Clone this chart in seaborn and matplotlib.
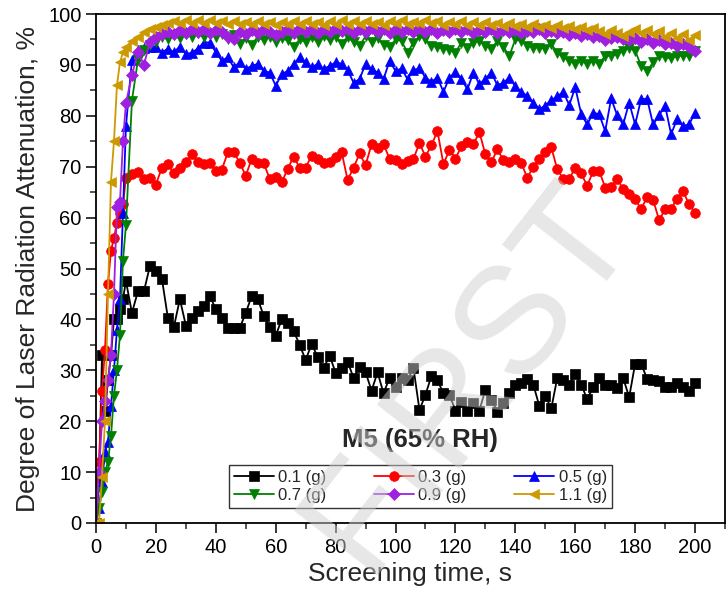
import matplotlib
matplotlib.use("Agg")
import matplotlib.pyplot as plt
from matplotlib.ticker import MultipleLocator
import pandas as pd
import seaborn as sns

# ---------------- data ----------------
time_s = [0, 1, 2, 3, 4, 5, 6, 7, 8, 9, 10,
          12, 14, 16, 18, 20, 22, 24, 26, 28, 30, 32, 34, 36, 38, 40,
          42, 44, 46, 48, 50, 52, 54, 56, 58, 60, 62, 64, 66, 68, 70,
          72, 74, 76, 78, 80, 82, 84, 86, 88, 90, 92, 94, 96, 98, 100,
          102, 104, 106, 108, 110, 112, 114, 116, 118, 120, 122, 124, 126, 128, 130,
          132, 134, 136, 138, 140, 142, 144, 146, 148, 150, 152, 154, 156, 158, 160,
          162, 164, 166, 168, 170, 172, 174, 176, 178, 180, 182, 184, 186, 188, 190,
          192, 194, 196, 198, 200]

m01 = [0, 8, 33, 22, 28, 33, 40, 40, 42, 44, 47.5,
       41.3, 45.5, 45.5, 50.5, 49.5, 48, 40.3, 38.5, 44, 38.8, 40.3, 41.6, 42.6, 44.6, 42,
       40.3, 38.3, 38.3, 38.3, 41.3, 44.6, 44, 40.7, 38.5, 36.8, 40, 39.2, 37.7, 35, 32,
       35.2, 32.6, 30.4, 32.9, 29.5, 30.4, 31.7, 28.5, 30.6, 29.6, 26, 29.6, 25.5, 28.5, 26.8,
       28.5, 28.1, 30.4, 22.2, 25.2, 28.9, 28, 25.5, 25.2, 22.1, 23.7, 22.1, 23.6, 22.1, 26.2,
       24.2, 21.9, 23.6, 25.5, 27.2, 27.5, 28.3, 27.2, 23, 25, 22.5, 28.5, 28, 27.2, 29.3,
       27.2, 24.3, 26.7, 28.5, 27.2, 27.2, 26.5, 28.5, 24.7, 31.3, 31.3, 28.3, 28.1, 27.8, 26.7,
       26.7, 27.5, 26.8, 25.9, 27.6]

m03 = [0, 12, 26, 34, 47, 53.5, 56, 59, 61, 62.6, 67.8,
       68.5, 69, 67.5, 67.8, 66.5, 69.8, 70.5, 68.7, 69.8, 70.9, 72.4, 70.9, 70.5, 70.7, 69.2,
       69.4, 72.8, 72.8, 70.8, 68.2, 71.6, 70.8, 70.7, 67.6, 68, 66.9, 69.6, 72, 69.8, 69.8,
       72.2, 71.5, 70.8, 70.9, 72, 72.9, 67.4, 69.8, 72.6, 70.3, 74.4, 73.6, 74.4, 71.6, 71.3,
       70.5, 71.1, 71.6, 74.6, 72, 74.2, 77, 70.5, 73.3, 71.6, 74, 74.9, 74.4, 76.8, 72.4,
       70.9, 73.4, 71.3, 70.9, 71.6, 70.7, 67.8, 70, 71.5, 72.8, 73.8, 69.5, 67.6, 67.6, 69.8,
       68.7, 66.2, 69.2, 69.2, 65.9, 66.1, 67.6, 65.6, 64.6, 63.7, 61.6, 64.1, 63.5, 59.5, 61.6,
       61.7, 63.7, 65.2, 62.6, 61]

m05 = [0, 3, 8, 14, 16, 23, 30, 38, 44, 61, 78,
       91, 93, 93.4, 93.5, 93.6, 92.4, 93.2, 92.5, 93.6, 92.1, 92.4, 93.2, 94.4, 94.4, 92.5,
       90.8, 91.5, 89.5, 90.5, 89.2, 89.8, 90.2, 88.8, 88.5, 85.9, 88.2, 88.8, 90.2, 91.5, 90.5,
       89.5, 90.2, 89.2, 89.8, 90.5, 90.2, 89, 86.5, 87.2, 90.2, 89.2, 88.5, 87.2, 90.8, 88.8,
       89.3, 87.2, 89, 89.3, 87.5, 86.7, 87.5, 84.7, 87.5, 88.6, 87.2, 85.2, 88.5, 86.2, 87.3,
       88.5, 86, 86.5, 87.5, 85.8, 84.7, 83.9, 82.6, 81.3, 82, 83.1, 83.8, 84.7, 82.1, 85.6,
       80.3, 78.3, 80.6, 80.3, 77, 83.4, 80.1, 78.3, 82.6, 78.3, 83.3, 83.3, 78.3, 80.1, 82,
       76.4, 79.3, 78, 78.3, 80.6]

m07 = [0, 3, 6, 10, 12, 17, 25, 30, 37, 51.5, 58.5,
       83, 91, 93, 94, 94.5, 95.5, 95, 95.8, 95.2, 96, 95.5, 96.2, 95.4, 96, 95.5,
       96, 95, 95.8, 94.2, 95.3, 94, 95.5, 94.8, 95.5, 94.5, 95.2, 94.8, 93.6, 95, 94.5,
       95.5, 94.5, 95.6, 94.8, 95.4, 94.2, 95.5, 94.5, 93.8, 95.6, 94.5, 95.2, 94, 93.5, 95,
       94.7, 92.4, 94.4, 95.6, 95, 93.8, 93.5, 93.2, 93, 92.4, 94.4, 93.4, 94.4, 94.7, 93.8,
       93.2, 94.7, 93.5, 91.8, 95, 94.7, 93.8, 93.4, 93.4, 93.2, 94.1, 92.4, 91.5, 90.8, 90.2,
       90.8, 90.2, 90.8, 90.2, 91.8, 91.8, 92.1, 92.8, 93.4, 92.8, 89.8, 88.8, 90.5, 91.8, 91.5,
       91.3, 91.8, 91.8, 91.8, 92.8]

m09 = [0, 10, 20, 24, 28, 33, 45, 62, 63, 75, 82.5,
       88, 92.5, 90, 94.5, 95.5, 96, 96.5, 96, 96.8, 96.3, 97, 96.5, 97, 96.2, 96.8,
       96.5, 95.5, 95, 96.5, 96, 96.8, 96.2, 97, 96.5, 95.8, 96.5, 97, 96.3, 97.2, 96.5,
       97, 96.2, 97, 96.5, 97.2, 96.6, 97, 96.2, 97, 96.5, 97.2, 96.5, 97, 96.3, 97,
       96.4, 97.1, 96.5, 97.2, 96.4, 97, 96.3, 96.9, 96.4, 97, 96.5, 97.1, 96.3, 96.8, 96.4,
       97, 96.2, 96.9, 96.4, 96.8, 96.2, 96.7, 96.4, 97, 96.3, 96.7, 96.2, 96.5, 95.8, 96.2,
       95.6, 96, 95.5, 95.7, 94.8, 95.2, 95.5, 95, 94.8, 95.2, 94.5, 95, 94.3, 94.8, 94.2,
       94.4, 93.8, 94.2, 93.5, 92.8]

m11 = [0, 0, 9, 20, 45, 67, 75, 86, 90.5, 92.5, 93.5,
       94.7, 95.5, 96.4, 97, 97.5, 97.8, 98.3, 98.7, 98.3, 98.8, 98.2, 98.9, 98.3, 98.8, 98.2,
       98.7, 98, 98.6, 98, 98.5, 98.1, 98.7, 98, 98.4, 97.8, 98.5, 98, 98.6, 98.1, 98.7,
       98, 98.5, 97.9, 98.6, 98, 98.8, 98.1, 98.6, 98, 98.7, 98.1, 98.5, 97.9, 98.6, 98.2,
       98.8, 98, 98.5, 98.2, 98.9, 98.2, 98.6, 97.9, 98.4, 98, 98.6, 97.8, 98.4, 97.9, 98.5,
       97.8, 98.3, 97.7, 98.2, 97.6, 98.1, 97.5, 98, 97.4, 97.9, 97.3, 97.8, 97.2, 97.6, 97,
       97.5, 96.8, 97.3, 96.6, 96.1, 96.9, 96.3, 95.6, 96.5, 97, 96.2, 96.8, 96, 96.6, 95.5,
       96.3, 95.2, 96, 94.8, 95.8]

labels = ["0.1 (g)", "0.3 (g)", "0.5 (g)", "0.7 (g)", "0.9 (g)", "1.1 (g)"]
series = [m01, m03, m05, m07, m09, m11]
colors = ["#000000", "#FF0000", "#0000FF", "#008000", "#A020E0", "#CC9A00"]
markers = ["s", "o", "^", "v", "D", "<"]
msizes = [6.5, 7, 7, 7, 6, 7]

# ---------------- style ----------------
sns.set_style("ticks")
plt.rcParams["font.family"] = ["Liberation Sans", "DejaVu Sans"]

fig = plt.figure(figsize=(7.28, 6.0), dpi=100)
ax = fig.add_axes([96 / 728, 1 - 523 / 600, 629 / 728, 509 / 600])

for vals, lab, col, mk, ms in zip(series, labels, colors, markers, msizes):
    df = pd.DataFrame({"t": time_s, "v": vals})
    sns.lineplot(data=df, x="t", y="v", ax=ax, color=col, marker=mk,
                 markersize=ms, markeredgecolor=col, markeredgewidth=0.5,
                 linewidth=1.3, label=lab, errorbar=None, legend=False)

ax.set_xlim(0, 210)
ax.set_ylim(0, 100)
ax.xaxis.set_major_locator(MultipleLocator(20))
ax.xaxis.set_minor_locator(MultipleLocator(10))
ax.yaxis.set_major_locator(MultipleLocator(10))
ax.yaxis.set_minor_locator(MultipleLocator(5))
ax.tick_params(which="major", direction="out", length=7, width=1.1,
               labelsize=14.5, color="black", labelcolor="black",
               top=False, right=False)
ax.tick_params(which="minor", direction="out", length=4, width=1.1,
               top=False, right=False)
for sp in ax.spines.values():
    sp.set_visible(True)
    sp.set_linewidth(1.3)
    sp.set_color("black")

ax.set_xlabel("Screening time, s", fontsize=19, labelpad=4)
ax.set_ylabel("Degree of Laser Radiation Attenuation, %", fontsize=19, labelpad=6)

ax.text(108, 16.3, "M5 (65% RH)", fontsize=18.5, fontweight="bold",
        ha="center", va="center")

lines = ax.get_lines()
order = [0, 3, 1, 4, 2, 5]
leg = ax.legend([lines[i] for i in order], [labels[i] for i in order],
                ncol=3, loc="lower left",
                bbox_to_anchor=(0.211, 0.03, 0.609, 0.088), mode="expand",
                fontsize=12, frameon=True, fancybox=False, framealpha=1,
                edgecolor="#333333", handlelength=2.4, handletextpad=0.25,
                borderpad=0.3, labelspacing=0.15, columnspacing=1.2,
                borderaxespad=0)
leg.get_frame().set_linewidth(1.0)

# light watermark as in the reference
fig.text(470 / 728, 1 - 378 / 600, "FIRST", fontsize=110, color="#cfcfcf",
         alpha=0.5, rotation=52, ha="center", va="center", zorder=10)

fig.savefig("out.png", dpi=100)
